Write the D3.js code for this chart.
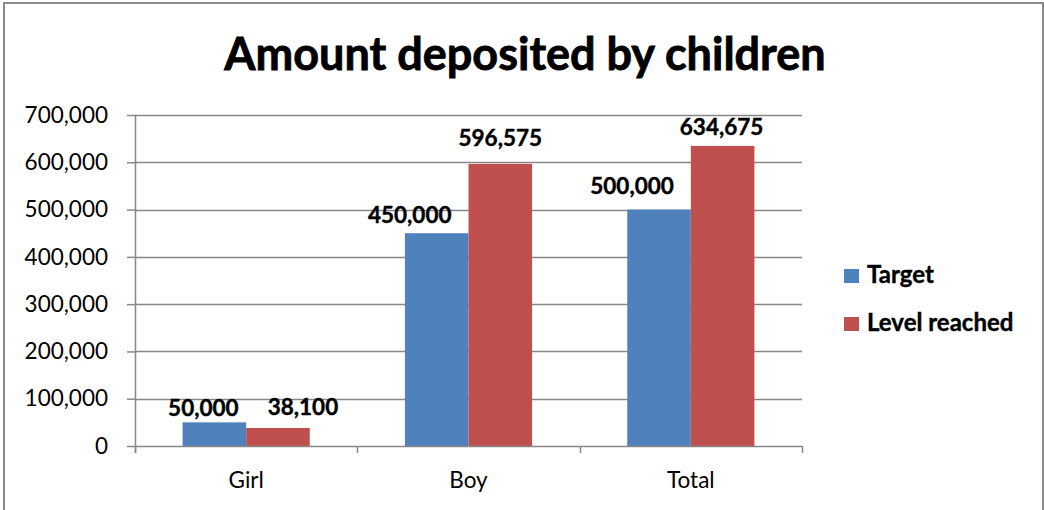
<!DOCTYPE html>
<html>
<head>
<meta charset="utf-8">
<script src="https://cdn.jsdelivr.net/npm/d3@7"></script>
<style>
  html, body { margin: 0; padding: 0; background: #fff; }
  svg { display: block; font-family: Lato, "Open Sans", sans-serif; }
</style>
</head>
<body>
<svg id="chart" width="1044" height="510"></svg>
<script>
// Chart data
const categories = ["Girl", "Boy", "Total"];
const seriesNames = ["Target", "Level reached"];
const targetValues = [50000, 450000, 500000];
const reachedValues = [38100, 596575, 634675];
const yTicks = [0, 100000, 200000, 300000, 400000, 500000, 600000, 700000];
const chartTitle = "Amount deposited by children";

const colors = { "Target": "#4F81BD", "Level reached": "#C0504D" };

// Layout
const W = 1044, H = 510;
const plot = { left: 135, right: 802, top: 115, bottom: 446 };
const gridColor = "#888888";

// Hand-placed data label offsets (dx, gap above bar top), keyed by category|series
const labelPlacement = {
  "Girl|Target": [-11, 6],
  "Girl|Level reached": [25, 13],
  "Boy|Target": [-27, 10],
  "Boy|Level reached": [0, 18],
  "Total|Target": [-27, 16],
  "Total|Level reached": [-1, 11]
};

const svg = d3.select("#chart");

// Outer chart border
svg.append("rect")
  .attr("x", 4).attr("y", 3)
  .attr("width", 1039).attr("height", H + 10)
  .attr("fill", "#fff")
  .attr("stroke", "#8a8a8a")
  .attr("stroke-width", 2);

const rows = categories.map((c, i) => ({
  category: c,
  values: [
    { series: seriesNames[0], value: targetValues[i] },
    { series: seriesNames[1], value: reachedValues[i] }
  ]
}));

const x0 = d3.scaleBand().domain(categories).range([plot.left, plot.right]).paddingInner(0).paddingOuter(0);
const gap = x0.bandwidth() * 0.214;
const x1 = d3.scaleBand().domain(seriesNames).range([gap, x0.bandwidth() - gap]).padding(0);
const y = d3.scaleLinear().domain([0, 700000]).range([plot.bottom, plot.top]);

// Horizontal gridlines
svg.append("g")
  .selectAll("line")
  .data(yTicks.filter(t => t > 0))
  .join("line")
  .attr("x1", plot.left).attr("x2", plot.right)
  .attr("y1", d => Math.round(y(d)) + 0.5).attr("y2", d => Math.round(y(d)) + 0.5)
  .attr("stroke", gridColor).attr("stroke-width", 1.5);

// Y axis
const yAxis = svg.append("g")
  .attr("transform", `translate(${plot.left},0)`)
  .call(d3.axisLeft(y).tickValues(yTicks).tickFormat(d3.format(",")).tickSize(8).tickPadding(19));
yAxis.select(".domain").attr("stroke", gridColor).attr("stroke-width", 1.5)
  .attr("d", `M0.5,${plot.top}V${plot.bottom + 7}`);
yAxis.selectAll(".tick line").attr("stroke", gridColor).attr("stroke-width", 1.5);
yAxis.selectAll(".tick text")
  .attr("fill", "#000")
  .style("font-size", "22.5px")
  .style("font-family", "Lato, sans-serif");

// Bars
const groups = svg.append("g")
  .selectAll("g")
  .data(rows)
  .join("g")
  .attr("transform", d => `translate(${x0(d.category)},0)`);

groups.selectAll("rect")
  .data(d => d.values.map(v => ({ ...v, category: d.category })))
  .join("rect")
  .attr("x", d => x1(d.series))
  .attr("y", d => y(d.value))
  .attr("width", x1.bandwidth())
  .attr("height", d => y(0) - y(d.value))
  .attr("fill", d => colors[d.series]);

// X axis
const xAxisG = svg.append("g").attr("transform", `translate(0,${plot.bottom})`);
xAxisG.append("line")
  .attr("x1", plot.left).attr("x2", plot.right)
  .attr("y1", 0.5).attr("y2", 0.5)
  .attr("stroke", gridColor).attr("stroke-width", 1.5);
const boundaries = categories.map(c => x0(c)).concat([x0(categories[categories.length - 1]) + x0.bandwidth()]);
xAxisG.selectAll("line.tk")
  .data(boundaries)
  .join("line")
  .attr("class", "tk")
  .attr("x1", d => Math.round(d) + 0.5).attr("x2", d => Math.round(d) + 0.5)
  .attr("y1", 0).attr("y2", 7)
  .attr("stroke", gridColor).attr("stroke-width", 1.5);
xAxisG.selectAll("text")
  .data(categories)
  .join("text")
  .attr("x", d => x0(d) + x0.bandwidth() / 2)
  .attr("y", 42)
  .attr("text-anchor", "middle")
  .style("font-size", "22.5px")
  .text(d => d);

// Data labels
groups.selectAll("text.val")
  .data(d => d.values.map(v => ({ ...v, category: d.category })))
  .join("text")
  .attr("class", "val")
  .attr("x", d => x1(d.series) + x1.bandwidth() / 2 + labelPlacement[d.category + "|" + d.series][0])
  .attr("y", d => y(d.value) - labelPlacement[d.category + "|" + d.series][1])
  .attr("text-anchor", "middle")
  .style("font-size", "22.5px")
  .style("font-weight", "bold")
  .attr("stroke", "#000").attr("stroke-width", 0.4)
  .text(d => d3.format(",")(d.value));

// Title
svg.append("text")
  .attr("x", 525).attr("y", 70)
  .attr("text-anchor", "middle")
  .style("font-size", "45px")
  .style("font-weight", "bold")
  .attr("stroke", "#000").attr("stroke-width", 0.8)
  .text(chartTitle);

// Legend
const legend = svg.append("g")
  .selectAll("g")
  .data(seriesNames)
  .join("g")
  .attr("transform", (d, i) => `translate(844,${269 + i * 48})`);
legend.append("rect")
  .attr("width", 15).attr("height", 14)
  .attr("fill", d => colors[d]);
legend.append("text")
  .attr("x", 23).attr("y", 13.5)
  .style("font-size", "24px")
  .style("font-weight", "bold")
  .attr("stroke", "#000").attr("stroke-width", 0.4)
  .text(d => d);
</script>
</body>
</html>
